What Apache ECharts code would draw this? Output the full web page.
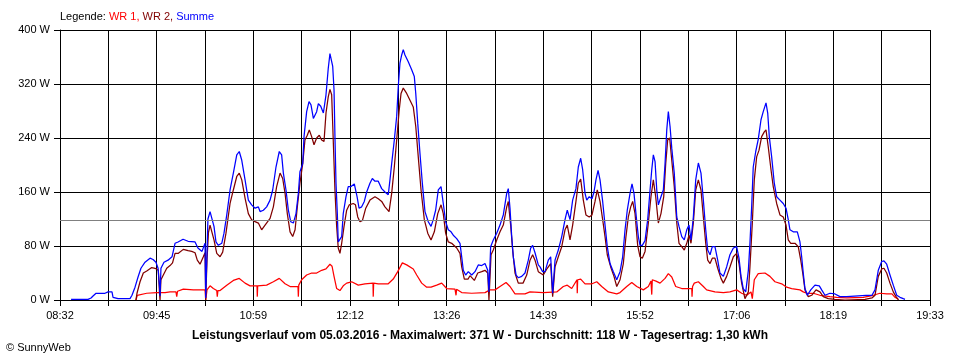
<!DOCTYPE html>
<html><head><meta charset="utf-8">
<script src="https://cdn.jsdelivr.net/npm/echarts@6/dist/echarts.min.js"></script>
<style>html,body{margin:0;padding:0;background:#fff}#c{width:960px;height:360px}</style>
</head><body><div id="c"></div>
<script>
// Time axis: minutes of day; chart starts at 08:32 and spans 661 minutes (to 19:33)
const START = 512;
const SPAN = 661;
const X_LABELS = ['08:32','09:45','10:59','12:12','13:26','14:39','15:52','17:06','18:19','19:33'];
const Y_MAX = 400;
const Y_STEP = 80;
const AVG = 118; // Durchschnitt
const LEGEND_TEXT = ['Legende:', 'WR 1,', 'WR 2,', 'Summe'];
const CAPTION = 'Leistungsverlauf vom 05.03.2016 - Maximalwert: 371 W - Durchschnitt: 118 W - Tagesertrag: 1,30 kWh';
const COPYRIGHT = '\u00A9 SunnyWeb';

// Summe (blue)
const sumT = [520.4,533.3,535.6,537.1,539.4,546.2,548.5,551.5,552.3,556.1,
565.2,566.7,569.0,571.3,573.5,576.6,580.4,582.7,584.9,586.5,
587.6,588.0,588.7,591.0,594.1,597.1,599.4,601.7,605.5,609.3,
614.6,616.8,619.9,621.4,622.2,622.7,624.4,626.0,627.5,629.0,
630.5,632.3,634.9,636.6,638.7,641.2,643.7,646.3,648.2,650.1,
652.6,655.1,657.6,660.2,662.7,664.0,666.5,669.0,671.6,673.6,
676.1,678.6,680.4,681.7,683.7,685.5,687.3,689.3,691.3,693.1,
694.3,696.4,697.4,699.4,701.2,702.7,704.5,705.7,707.0,708.3,
710.1,712.1,714.1,715.8,717.1,717.9,719.2,720.2,720.9,721.7,
722.7,723.4,724.7,726.0,727.2,729.3,731.0,733.1,735.6,737.7,
739.2,741.2,743.2,745.0,747.5,749.3,751.3,753.8,756.4,758.9,
761.4,762.7,764.0,766.0,767.8,769.0,770.3,771.6,772.8,774.1,
776.6,779.2,781.2,782.3,783.8,785.5,787.3,789.3,791.8,793.9,
795.6,797.4,799.4,801.5,803.2,805.0,807.0,809.1,810.8,813.4,
815.9,817.2,818.4,820.2,822.2,824.8,827.3,829.8,832.4,834.9,
837.0,837.9,839.2,841.2,843.8,846.3,848.8,851.4,852.6,853.9,
855.2,856.4,858.5,860.2,862.8,865.3,867.8,869.6,871.1,872.9,
875.4,876.7,878.7,880.5,883.0,884.8,886.3,888.1,890.6,893.2,
895.7,897.4,899.5,901.5,904.0,905.8,907.6,909.1,910.9,912.2,
914.1,916.2,917.7,919.2,920.8,922.3,924.3,926.1,927.8,929.9,
932.4,935.0,937.5,939.5,941.3,943.0,945.1,946.6,948.1,950.2,
951.4,952.7,954.4,956.5,958.5,960.3,961.6,962.8,964.1,965.4,
966.6,968.6,970.4,971.7,973.0,974.2,975.5,976.8,978.7,980.6,
982.3,984.4,986.3,988.2,989.9,991.4,993.2,995.0,997.0,999.0,
1000.8,1002.6,1004.1,1005.9,1007.6,1009.6,1011.7,1013.4,1016.0,1018.5,
1021.0,1023.6,1026.1,1027.9,1029.4,1031.1,1033.0,1035.0,1036.2,1037.5,
1038.7,1040.6,1042.5,1044.6,1046.3,1048.4,1049.7,1050.9,1052.7,1054.7,
1056.5,1059.0,1061.5,1063.6,1065.3,1066.6,1069.1,1072.2,1074.2,1075.5,
1076.7,1078.0,1079.8,1082.4,1085.6,1088.9,1090.7,1093.2,1097.0,1100.8,
1104.6,1109.7,1124.4,1128.9,1131.2,1133.7,1136.3,1138.0,1140.1,1142.6,
1145.1,1147.7,1150.2,1152.7,1154.0];
const sumV = [1,1,3,6,10,10,12,12,4,2,
2,7,19,34,47,56,62,60,56,47,
20,6,47,56,59,64,84,86,90,87,
86,77,72,80,84,3,120,131,131,109,
86,81,84,99,126,163,188,215,220,207,
178,148,141,136,138,131,133,138,148,163,
197,220,215,188,163,133,116,114,128,158,
190,202,242,279,294,289,269,267,279,291,
287,277,304,343,365,366,346,311,242,173,
128,86,84,94,128,153,168,168,172,153,
136,138,146,160,173,180,176,176,165,160,
156,178,202,237,272,316,351,363,371,363,
353,341,331,306,262,217,173,131,116,109,
119,133,163,168,143,116,104,101,96,91,
84,64,44,37,42,37,42,52,51,54,
44,12,79,89,99,111,126,158,165,136,
94,64,37,33,35,40,59,77,81,70,
52,49,42,42,59,64,10,59,74,94,
119,133,119,148,165,197,210,193,158,148,
153,150,160,178,192,178,146,111,79,54,
42,30,42,64,104,133,158,172,158,116,
94,81,81,88,119,163,193,215,205,163,
141,153,163,202,252,279,257,225,188,123,
109,94,89,104,111,89,123,178,203,188,
148,104,74,67,79,79,59,40,35,49,
67,77,79,62,35,17,12,44,84,138,
197,220,238,267,279,292,277,242,212,173,
153,148,143,136,119,104,101,101,86,64,
40,17,7,15,22,21,15,7,10,9,
5,5,7,7,15,44,57,58,53,37,
22,7,4,2,1];

// WR 2 (dark red)
const wr2T = [569.7,570.5,572.8,575.3,577.9,581.7,584.2,586.7,587.6,588.0,
588.7,590.5,593.1,595.6,597.5,599.4,601.7,605.7,609.3,612.1,
614.6,616.3,618.4,620.9,622.2,622.7,623.7,624.8,626.0,627.5,
629.0,631.1,633.6,635.6,638.1,641.2,643.7,646.3,648.2,650.1,
652.6,655.1,657.6,660.2,662.7,665.2,667.8,671.6,674.1,676.6,
679.2,681.2,683.0,684.7,686.8,688.8,690.6,692.3,694.3,696.4,
698.1,699.9,701.4,703.2,705.0,707.0,709.0,710.8,712.6,714.1,
715.8,717.1,718.4,719.6,720.9,722.2,723.4,724.7,726.0,727.8,
729.8,731.8,734.8,736.5,738.2,739.9,741.8,744.3,747.5,751.3,
753.8,756.4,758.9,762.0,764.0,766.0,767.8,769.6,771.1,772.8,
775.4,777.9,780.4,782.3,784.2,786.3,788.8,791.4,793.9,796.4,
799.0,801.5,803.2,805.0,807.0,809.6,813.4,815.9,817.2,819.2,
822.0,823.5,826.8,829.4,832.4,834.9,837.0,837.9,839.5,841.2,
843.8,846.3,848.8,851.4,852.6,854.4,855.9,857.7,860.2,863.8,
866.6,869.1,871.1,872.9,875.4,879.2,882.2,884.8,886.3,888.1,
890.6,893.2,895.7,897.4,899.5,901.5,904.0,905.8,907.6,909.6,
911.6,914.1,916.2,918.5,920.2,922.3,924.3,926.1,927.8,930.4,
932.9,935.0,937.5,940.0,942.0,943.8,945.6,947.1,948.9,950.9,
952.7,954.4,956.5,959.0,961.0,962.8,964.6,966.6,968.6,970.7,
972.2,973.7,975.2,976.8,978.7,980.6,982.3,984.4,986.3,988.2,
989.9,991.4,993.2,995.0,997.0,999.0,1000.8,1002.6,1004.1,1005.9,
1007.6,1009.6,1011.7,1014.2,1016.0,1018.5,1021.0,1023.6,1026.1,1027.9,
1029.9,1032.4,1035.0,1036.2,1038.0,1039.5,1041.3,1043.1,1045.1,1047.1,
1048.4,1050.1,1052.2,1053.9,1056.5,1059.0,1061.5,1063.6,1065.3,1067.2,
1070.4,1072.9,1074.8,1076.3,1078.0,1080.5,1083.1,1086.4,1089.4,1091.9,
1095.7,1100.8,1108.4,1123.6,1128.9,1131.2,1133.7,1136.3,1138.0,1140.1,
1142.6,1145.1,1147.2,1149.1];
const wr2V = [0,10,27,40,43,48,47,44,10,0,
30,37,47,51,55,69,69,75,73,72,
70,59,53,64,70,0,60,100,111,111,
89,69,64,71,99,143,163,183,188,178,
151,128,119,116,114,104,111,121,138,168,
188,180,158,128,101,94,104,138,173,202,
237,244,252,242,230,240,244,237,235,277,
301,312,304,237,163,109,77,69,84,109,
133,141,143,141,123,116,118,136,148,153,
150,146,138,131,158,197,237,279,306,314,
306,296,286,257,212,163,119,99,89,101,
128,141,128,99,86,84,77,69,49,31,
31,36,29,40,42,44,40,0,67,74,
89,101,111,138,146,111,74,40,25,25,
37,59,67,59,42,37,47,54,5,49,
64,79,104,111,89,111,146,173,179,148,
126,123,126,146,163,146,119,94,67,49,
35,20,30,54,94,123,138,146,128,81,
64,62,72,114,153,178,153,114,128,153,
202,237,240,207,168,114,84,79,74,84,
96,84,114,163,178,163,123,84,59,54,
62,62,47,32,25,35,49,64,69,54,
25,2,12,49,114,178,212,222,242,249,
252,227,193,168,143,126,123,111,89,84,
84,79,59,40,15,5,7,15,12,5,
2,1,0,1,3,7,35,46,47,40,
25,12,5,0];

// WR 1 (red)
const wr1T = [569.7,570.7,577.9,585.5,591.8,595.6,600.1,600.7,601.3,605.7,
613.3,622.2,622.7,623.7,626.0,628.5,631.1,631.5,632.0,633.6,
638.7,643.7,648.2,652.6,656.4,661.7,661.9,662.2,669.0,674.1,
678.6,683.0,686.8,692.8,693.1,693.4,695.6,699.4,703.2,707.0,
710.8,714.1,717.1,718.7,720.2,722.2,724.7,727.2,729.8,733.6,
738.6,743.7,749.8,750.0,750.3,753.8,761.4,765.2,768.6,772.1,
775.4,780.4,783.0,786.8,790.6,793.9,798.2,802.0,805.8,812.1,
812.9,813.3,817.2,824.8,834.9,838.7,842.5,846.3,850.9,853.9,
857.7,865.3,869.1,879.2,889.4,894.4,897.4,900.8,904.8,905.0,
905.3,907.6,910.9,916.2,919.8,923.6,928.6,935.0,937.5,942.6,
946.4,950.2,955.2,959.0,961.0,961.6,962.0,964.8,967.9,971.7,
974.2,976.8,979.8,984.4,989.4,992.0,992.2,992.6,993.9,997.0,
1000.8,1003.3,1009.6,1016.0,1021.0,1026.1,1029.9,1033.7,1037.0,1038.0,
1039.5,1042.5,1047.6,1051.4,1055.2,1060.3,1064.1,1067.9,1074.2,1076.7,
1079.3,1084.3,1089.4,1097.0,1102.1,1109.7,1122.3,1129.9,1135.0,1140.1,
1144.1,1146.4,1148.9];
const wr1V = [0,7,10,11,11,12,12,5,13,16,
15,15,0,15,21,17,14,5,14,14,
22,29,32,25,21,21,5,21,22,27,
32,24,20,20,5,22,30,37,40,40,
44,46,53,50,35,17,14,21,25,27,
22,24,25,5,25,24,24,31,42,55,
52,46,37,25,19,19,22,25,17,16,
7,16,11,10,11,15,15,20,26,20,
9,9,12,11,12,20,22,17,30,10,
30,31,24,24,27,20,12,9,11,20,
26,20,15,20,28,8,30,28,25,32,
39,34,20,17,17,17,5,20,25,27,
20,15,12,11,12,15,10,7,12,2,
30,39,40,35,27,24,19,17,15,12,
10,10,7,5,4,3,4,7,10,9,
9,4,1];

const FONT = "'Liberation Sans', Arial, Helvetica, sans-serif";
const XSTEP = SPAN / 18;

function pairs(t, v) {
  const n = Math.min(t.length, v.length);
  const out = [];
  for (let i = 0; i < n; i++) out.push([t[i] - START, v[i]]);
  return out;
}

function lineSeries(name, t, v, color, extra) {
  return Object.assign({
    name: name, type: 'line', data: pairs(t, v),
    showSymbol: false, symbol: 'none', smooth: false,
    lineStyle: { color: color, width: 1.25 },
    itemStyle: { color: color },
    emphasis: { disabled: true }, silent: true, animation: false
  }, extra || {});
}

const chart = echarts.init(document.getElementById('c'), null, { renderer: 'canvas' });
chart.setOption({
  animation: false,
  backgroundColor: '#fff',
  grid: { left: 60, right: 30, top: 30, bottom: 60 },
  title: [
    {
      left: 60, top: 11, padding: 0,
      text: '{k|' + LEGEND_TEXT[0] + '} {a|' + LEGEND_TEXT[1] + '} {b|' + LEGEND_TEXT[2] + '} {c|' + LEGEND_TEXT[3] + '}',
      textStyle: {
        fontSize: 11, fontFamily: FONT, fontWeight: 'normal', color: '#000',
        rich: {
          k: { color: '#000', fontSize: 11, fontFamily: FONT },
          a: { color: '#ff0000', fontSize: 11, fontFamily: FONT },
          b: { color: '#800000', fontSize: 11, fontFamily: FONT },
          c: { color: '#0000ff', fontSize: 11, fontFamily: FONT }
        }
      }
    },
    {
      left: 'center', top: 330, padding: 0, text: CAPTION,
      textStyle: { fontSize: 12, fontWeight: 'bold', fontFamily: FONT, color: '#000' }
    },
    {
      left: 6, top: 342, padding: 0, text: COPYRIGHT,
      textStyle: { fontSize: 11, fontWeight: 'normal', fontFamily: FONT, color: '#000' }
    }
  ],
  xAxis: {
    type: 'value', min: 0, max: SPAN, interval: XSTEP,
    axisLine: { show: true, lineStyle: { color: '#000', width: 1 } },
    axisTick: { show: true, length: 6, lineStyle: { color: '#000', width: 1 } },
    splitLine: { show: true, lineStyle: { color: '#000', width: 1 } },
    axisLabel: {
      show: true, color: '#000', fontSize: 11, fontFamily: FONT, margin: 10,
      showMinLabel: true, showMaxLabel: true,
      formatter: function (v) {
        const i = Math.round(v / XSTEP);
        return (i % 2 === 0) ? (X_LABELS[i / 2] || '') : '';
      }
    }
  },
  yAxis: {
    type: 'value', min: 0, max: Y_MAX, interval: Y_STEP,
    axisLine: { show: true, lineStyle: { color: '#000', width: 1 } },
    axisTick: { show: true, length: 6, lineStyle: { color: '#000', width: 1 } },
    splitLine: { show: true, lineStyle: { color: '#000', width: 1 } },
    axisLabel: { color: '#000', fontSize: 11, fontFamily: FONT, margin: 10, formatter: '{value} W' }
  },
  series: [
    lineSeries('WR 1', wr1T, wr1V, '#ff0000', {
      markLine: {
        silent: true, symbol: 'none', animation: false,
        label: { show: false },
        lineStyle: { color: '#808080', type: 'solid', width: 1 },
        data: [{ yAxis: AVG }]
      }
    }),
    lineSeries('WR 2', wr2T, wr2V, '#800000'),
    lineSeries('Summe', sumT, sumV, '#0000ff')
  ]
});
</script>
</body></html>
